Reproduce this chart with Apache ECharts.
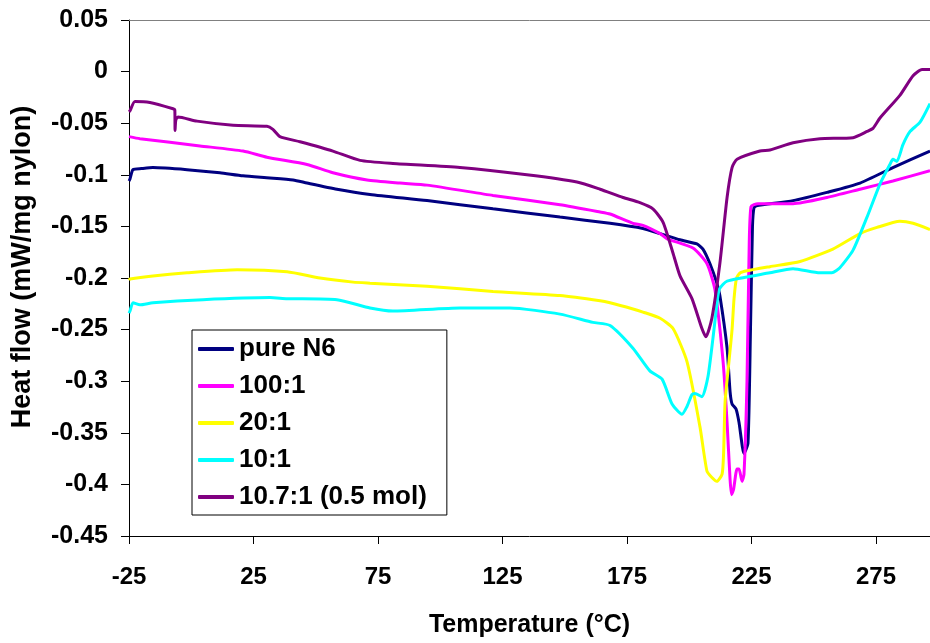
<!DOCTYPE html>
<html>
<head>
<meta charset="utf-8">
<script src="https://cdn.jsdelivr.net/npm/echarts@6/dist/echarts.min.js"></script>
<style>
html,body{margin:0;padding:0;background:#fff;}
#chart{width:930px;height:643px;}
</style>
</head>
<body>
<div id="chart"></div>
<script>
// ---- data (temperature °C, heat flow mW/mg nylon) ----
const seriesNames = ['pure N6', '100:1', '20:1', '10:1', '10.7:1 (0.5 mol)'];
const seriesColors = ['#000080', '#FF00FF', '#FFFF00', '#00FFFF', '#800080'];

const pureN6 = [[-25,-0.106],[-24.6,-0.104],[-23.4,-0.095],[-20,-0.094],[-15.4,-0.093],[-1.7,-0.095],[11.5,-0.098],[20.8,-0.101],[31.6,-0.103],[40.9,-0.105],[46.5,-0.108],[58.5,-0.114],[71.8,-0.119],[94.7,-0.125],[121.2,-0.133],[148.1,-0.141],[168.2,-0.147],[181.4,-0.152],[188.3,-0.157],[196.3,-0.163],[203.1,-0.167],[205.5,-0.172],[208.3,-0.186],[211.1,-0.205],[212.3,-0.217],[215.2,-0.268],[216.4,-0.31],[217.2,-0.322],[218.8,-0.327],[220,-0.34],[222,-0.37],[223.6,-0.36],[224.6,-0.25],[225.4,-0.15],[226,-0.132],[227,-0.13],[241.7,-0.125],[255.3,-0.117],[268.6,-0.108],[281.8,-0.093],[296.7,-0.077]];

const ratio100 = [[-25,-0.063],[-20.6,-0.065],[3.5,-0.072],[20.8,-0.077],[30.4,-0.083],[46.5,-0.09],[56.9,-0.098],[70.6,-0.105],[83.8,-0.108],[94.7,-0.11],[121.2,-0.12],[148.1,-0.129],[164.2,-0.136],[168.2,-0.138],[177.4,-0.147],[181.4,-0.149],[188.3,-0.157],[191.1,-0.162],[201.5,-0.171],[207.1,-0.186],[210.3,-0.211],[213.6,-0.281],[215.2,-0.34],[216.4,-0.395],[217,-0.41],[217.8,-0.405],[219.2,-0.385],[220,-0.385],[221.2,-0.397],[222,-0.39],[223.2,-0.3],[224,-0.18],[224.8,-0.131],[227.6,-0.128],[241.7,-0.128],[255.3,-0.122],[268.6,-0.114],[281.8,-0.106],[296.7,-0.096]];

const ratio20 = [[-25,-0.202],[-24.6,-0.201],[-15.4,-0.198],[-1.7,-0.195],[18.4,-0.192],[38.5,-0.194],[51.7,-0.2],[65,-0.204],[71.8,-0.205],[94.7,-0.208],[121.2,-0.213],[148.1,-0.217],[164.2,-0.222],[168.2,-0.224],[177.4,-0.23],[181.4,-0.233],[188.3,-0.239],[193.5,-0.249],[199.1,-0.281],[204.3,-0.344],[207.1,-0.387],[209,-0.393],[211.1,-0.397],[213.2,-0.39],[213.8,-0.37],[214.4,-0.32],[216,-0.28],[217.2,-0.25],[218,-0.22],[219,-0.2],[220.5,-0.195],[223.2,-0.193],[232.4,-0.189],[244.5,-0.184],[257.7,-0.172],[268.6,-0.157],[275.4,-0.151],[284.6,-0.145],[289.9,-0.147],[296.7,-0.153]];

const ratio10 = [[-25,-0.234],[-24.6,-0.232],[-23.4,-0.224],[-20.6,-0.226],[-15.4,-0.224],[4.7,-0.221],[31.6,-0.219],[38.5,-0.22],[58.5,-0.221],[71.8,-0.229],[81,-0.232],[107.9,-0.229],[128,-0.229],[148.1,-0.235],[161.3,-0.243],[168.2,-0.246],[177.4,-0.268],[184.2,-0.29],[189.1,-0.298],[193.1,-0.322],[197.1,-0.332],[199,-0.325],[201.1,-0.313],[202.3,-0.312],[205.1,-0.315],[207.5,-0.296],[209.5,-0.259],[211.5,-0.218],[212.3,-0.21],[215.2,-0.203],[232.4,-0.195],[241.7,-0.191],[252.5,-0.195],[257.3,-0.195],[260.5,-0.19],[265.8,-0.173],[271.4,-0.141],[276.6,-0.109],[280.6,-0.09],[281.8,-0.085],[283.4,-0.087],[285.8,-0.071],[288.7,-0.058],[292.7,-0.049],[296.7,-0.031]];

const ratio107 = [[-25,-0.039],[-24.6,-0.038],[-22.6,-0.029],[-16.6,-0.03],[-7.3,-0.036],[-6.6,-0.037],[-6.5,-0.057],[-6.2,-0.047],[-5.3,-0.044],[2.3,-0.048],[16.8,-0.052],[30.4,-0.053],[32.8,-0.056],[35.6,-0.063],[43.7,-0.068],[56.9,-0.077],[67.8,-0.086],[81,-0.089],[107.9,-0.093],[134.8,-0.1],[154.9,-0.107],[164.2,-0.114],[173.4,-0.122],[180.2,-0.127],[185.4,-0.133],[189.5,-0.146],[193.5,-0.176],[196.3,-0.198],[201.1,-0.22],[205.1,-0.249],[206.7,-0.257],[209.1,-0.239],[212.3,-0.186],[215.2,-0.122],[217.2,-0.093],[219.2,-0.085],[228.4,-0.077],[232.4,-0.076],[241.7,-0.069],[252.5,-0.065],[265.8,-0.064],[271.4,-0.058],[273.8,-0.055],[276.6,-0.045],[284.6,-0.023],[289.9,-0.004],[293.5,0.002],[296.7,0.002]];

const allData = [pureN6, ratio100, ratio20, ratio10, ratio107];

const xMin = -25, xMax = 296.7, xInterval = 50;
const yMin = -0.45, yMax = 0.05, yInterval = 0.05;

const FONT = '"Liberation Sans", Arial, sans-serif';

const chart = echarts.init(document.getElementById('chart'), null, {renderer: 'canvas'});

const option = {
  backgroundColor: '#ffffff',
  animation: false,
  grid: {left: 129, right: 0, top: 20, bottom: 100, containLabel: false},
  legend: {
    orient: 'vertical',
    left: 192,
    top: 330,
    data: seriesNames,
    icon: 'roundRect',
    itemWidth: 36,
    itemHeight: 4,
    itemGap: 11,
    padding: [6, 20, 5, 6],
    borderColor: '#000',
    borderWidth: 1,
    backgroundColor: '#fff',
    textStyle: {fontFamily: FONT, fontWeight: 'bold', fontSize: 26, color: '#000', lineHeight: 26}
  },
  xAxis: [{
    type: 'value',
    min: xMin, max: xMax, interval: xInterval,
    name: 'Temperature (°C)',
    nameLocation: 'middle',
    nameGap: 77,
    nameTextStyle: {fontFamily: FONT, fontWeight: 'bold', fontSize: 25, color: '#000'},
    axisLine: {show: true, onZero: false, lineStyle: {color: '#000', width: 1}},
    axisTick: {show: true, inside: false, length: 8, lineStyle: {color: '#000'}},
    axisLabel: {margin: 29, fontFamily: FONT, fontWeight: 'bold', fontSize: 24, color: '#000', showMaxLabel: false},
    splitLine: {show: false}
  }, {
    type: 'value',
    position: 'top',
    min: xMin, max: xMax, interval: xInterval,
    axisLine: {show: true, onZero: false, lineStyle: {color: '#808080', width: 1}},
    axisTick: {show: false},
    axisLabel: {show: false},
    splitLine: {show: false}
  }],
  yAxis: {
    type: 'value',
    min: yMin, max: yMax, interval: yInterval,
    name: 'Heat flow (mW/mg nylon)',
    nameLocation: 'middle',
    nameGap: 93,
    nameTextStyle: {fontFamily: FONT, fontWeight: 'bold', fontSize: 27, color: '#000', padding: [0, 0, 0, 22]},
    axisLine: {show: true, onZero: false, lineStyle: {color: '#000', width: 1}},
    axisTick: {show: true, inside: false, length: 8, lineStyle: {color: '#000'}},
    axisLabel: {
      margin: 21, fontFamily: FONT, fontWeight: 'bold', fontSize: 25, color: '#000',
      formatter: v => String(parseFloat(v.toFixed(2)))
    },
    splitLine: {show: false}
  },
  series: seriesNames.map((n, i) => ({
    name: n,
    type: 'line',
    xAxisIndex: 0,
    data: allData[i],
    showSymbol: false,
    symbol: 'none',
    smooth: 0.2,
    color: seriesColors[i],
    lineStyle: {color: seriesColors[i], width: 3},
    z: 2 + i
  }))
};
chart.setOption(option);
</script>
</body>
</html>
